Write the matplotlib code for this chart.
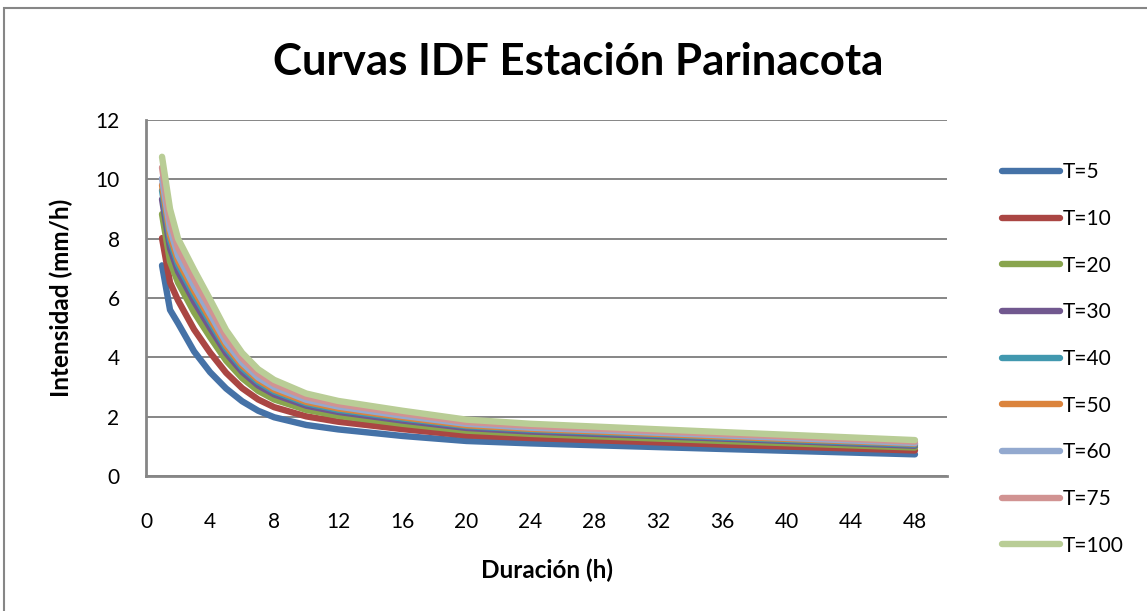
import matplotlib.pyplot as plt
from matplotlib.patches import Rectangle

plt.rcParams['font.family'] = ['Lato', 'DejaVu Sans']

# Duration (h) and intensity (mm/h)
duracion = [1, 1.5, 2, 3, 4, 5, 6, 7, 8, 10, 12, 16, 20, 24, 36, 48]

t5 = [7.1, 5.6, 5.15, 4.2, 3.5, 2.95, 2.52, 2.2, 1.98, 1.72, 1.57, 1.35, 1.18, 1.1, 0.91, 0.73]
t10 = [8.02, 6.52, 5.92, 4.94, 4.16, 3.48, 2.96, 2.58, 2.32, 2.01, 1.83, 1.58, 1.37, 1.28, 1.06, 0.86]
t20 = [8.83, 7.23, 6.52, 5.52, 4.68, 3.89, 3.3, 2.87, 2.58, 2.23, 2.03, 1.76, 1.53, 1.42, 1.18, 0.96]
t30 = [9.33, 7.67, 6.89, 5.88, 4.99, 4.14, 3.51, 3.05, 2.75, 2.37, 2.16, 1.87, 1.62, 1.5, 1.26, 1.02]
t40 = [9.63, 7.95, 7.12, 6.1, 5.19, 4.3, 3.64, 3.17, 2.85, 2.45, 2.23, 1.94, 1.68, 1.56, 1.3, 1.06]
t50 = [9.81, 8.12, 7.26, 6.24, 5.31, 4.39, 3.73, 3.24, 2.91, 2.5, 2.28, 1.98, 1.71, 1.59, 1.33, 1.09]
t60 = [10.03, 8.32, 7.43, 6.4, 5.46, 4.51, 3.82, 3.32, 2.99, 2.57, 2.34, 2.03, 1.76, 1.63, 1.37, 1.11]
t75 = [10.4, 8.63, 7.69, 6.65, 5.68, 4.69, 3.97, 3.45, 3.1, 2.66, 2.42, 2.11, 1.82, 1.69, 1.42, 1.16]
t100 = [10.76, 9.0, 8.0, 6.95, 5.95, 4.92, 4.15, 3.6, 3.24, 2.78, 2.53, 2.2, 1.9, 1.76, 1.48, 1.21]

series = [t5, t10, t20, t30, t40, t50, t60, t75, t100]
etiquetas = ['T=5', 'T=10', 'T=20', 'T=30', 'T=40', 'T=50', 'T=60', 'T=75', 'T=100']
colores = ['#4572A7', '#AA4643', '#89A54E', '#71588F', '#4198AF',
           '#DB843D', '#93A9CF', '#D19392', '#B9CD96']

x_ticks = list(range(0, 49, 4))
y_ticks = list(range(0, 13, 2))

W, H = 1147, 611
fig = plt.figure(figsize=(W / 100, H / 100), dpi=100)
ax = fig.add_axes([146 / W, 1 - 476 / H, (947 - 146) / W, (476 - 120) / H])

lineas = []
for vals, lab, col in zip(series, etiquetas, colores):
    ln, = ax.plot(duracion, vals, color=col, lw=4.6, label=lab,
                  solid_capstyle='round', solid_joinstyle='round')
    lineas.append(ln)

ax.set_xlim(0, 50)
ax.set_ylim(0, 12)
ax.set_xticks(x_ticks)
ax.set_yticks(y_ticks)
ax.tick_params(length=0, labelsize=15)
ax.tick_params(axis='x', pad=26)
ax.tick_params(axis='y', pad=19)
ax.grid(axis='y', color='#868686', lw=1.4)
ax.set_axisbelow(True)
for s in ['top', 'right']:
    ax.spines[s].set_visible(False)
for s in ['left', 'bottom']:
    ax.spines[s].set_color('#868686')
    ax.spines[s].set_linewidth(2)

fig.text(547 / W, 1 - 570 / H, 'Duración (h)', ha='center', va='center',
         fontsize=17.5, fontweight='bold')
fig.text(61 / W, 1 - 298 / H, 'Intensidad (mm/h)', ha='center', va='center',
         rotation=90, fontsize=17.5, fontweight='bold')

fig.text(578 / W, 1 - 62 / H, 'Curvas IDF Estación Parinacota', ha='center', va='center',
         fontsize=31.5, fontweight='bold')

fig.legend(handles=lineas, loc='upper left', bbox_to_anchor=(994 / W, 1 - 154 / H),
           frameon=False, fontsize=15, handlelength=2.75, handletextpad=0.15,
           labelspacing=1.28, borderaxespad=0)

fig.patches.append(Rectangle((4 / W, -0.1), 1.2, 1 - 8 / H + 0.1,
                             transform=fig.transFigure, fill=False,
                             edgecolor='#868686', lw=1.5))

fig.savefig('out.png', dpi=100)
